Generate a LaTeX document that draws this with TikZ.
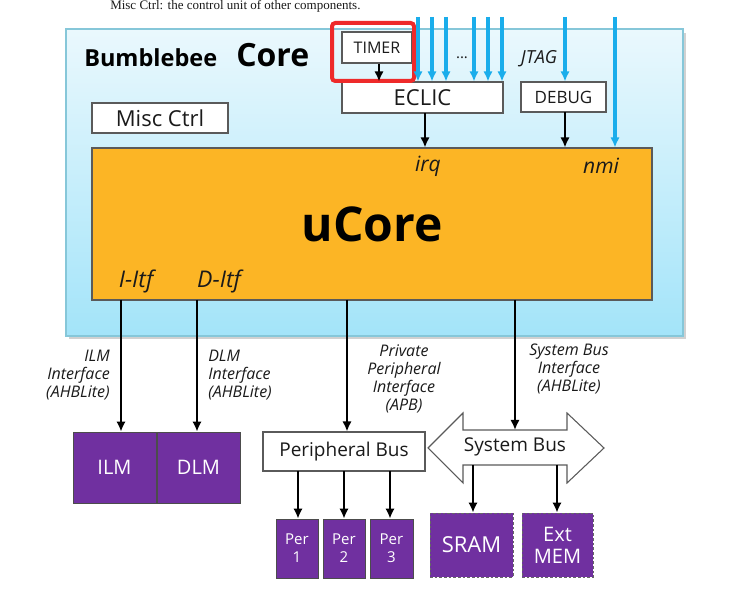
\documentclass[tikz,border=0pt]{standalone}
\usepackage{fontspec}
\setmainfont{Open Sans}
\newfontfamily\topserif{Liberation Serif}
\usetikzlibrary{arrows.meta}
\newdimen\pxu \pxu=0.75pt
\newcommand\fsz[2]{\fontsize{#1\pxu}{#2\pxu}\selectfont}
\definecolor{blueline}{HTML}{1AADEB}
\definecolor{coretop}{HTML}{EAF8FD}
\definecolor{corebot}{HTML}{A3E4F9}
\definecolor{coreedge}{HTML}{86C7D9}
\definecolor{orangec}{HTML}{FCB525}
\definecolor{purplec}{HTML}{7030A0}
\definecolor{edgegray}{HTML}{5A5A5A}
\definecolor{txt}{HTML}{1A1A1A}
\definecolor{redbox}{HTML}{EE2A2A}
\tikzset{
  sz/.style 2 args={minimum width=#1*\pxu, minimum height=#2*\pxu, inner sep=0pt},
  wbox/.style={draw=edgegray, line width=0.8pt, fill=white, text=txt},
  pbox/.style={draw=black!70, line width=0.6pt, fill=purplec, text=white},
  pdash/.style={draw=black!60, line width=0.6pt, dashed, dash pattern=on 2pt off 1.5pt, fill=purplec, text=white},
  barrow/.style={line width=2.1pt, -{Latex[length=7.5pt,width=7pt]}, draw=black},
  larrow/.style={line width=2.3pt, -{Latex[length=7.5pt,width=7pt]}, draw=blueline},
  lbl/.style={font=\itshape\fsz{16}{18}, text=txt, inner sep=0pt},
}
\begin{document}
\begin{tikzpicture}[x=0.75pt,y=-0.75pt]
\clip (0,0) rectangle (750,609);
\fill[white] (0,0) rectangle (750,609);
% caption text at top
\node[anchor=base west, font=\topserif\fsz{13}{15}, text=txt, inner sep=0pt] (cap) at (110,10) {Misc Ctrl: the control unit of other components.};
% core box with shadow
\fill[black!18] (69,33) rectangle (686,339);
\node[sz={617}{307}, draw=coreedge, line width=0.8pt, top color=coretop, bottom color=corebot] (core) at (374.5,182.5) {};
\node[anchor=base west, font=\bfseries\fsz{23.5}{26}, text=black, inner sep=0pt] (bb) at (84,67) {Bumblebee};
\node[anchor=base west, font=\bfseries\fsz{32}{35}, text=black, inner sep=0pt] (cw) at (236,67) {Core};
% top boxes
\node[wbox, sz={70}{31}, font=\fsz{16}{18}] (timer) at (377,47.5) {TIMER};
\node[wbox, sz={161}{31}, font=\fsz{22}{24}] (eclic) at (422.5,97.5) {ECLIC};
\node[wbox, sz={85}{30}, font=\fsz{17}{19}] (debug) at (563.5,97) {DEBUG};
\node[wbox, sz={136}{30}, font=\fsz{22}{24}] (misc) at (160,118) {Misc Ctrl};
\node[draw=redbox, line width=3pt, rounded corners=2.5pt, sz={82}{58}] (hl) at (373,52) {};
% uCore
\node[draw=edgegray, line width=0.8pt, fill=orangec, sz={560}{152}, font=\bfseries\fsz{48}{50}, text=black] (ucore) at (372,224) {uCore};
\node[lbl, font=\itshape\fsz{21}{23}] (irq) at (428,166) {irq};
\node[lbl, font=\itshape\fsz{21}{23}] (nmi) at (601,166) {nmi};
\node[lbl, font=\itshape\fsz{23}{25}] (iitf) at (136,281) {I-Itf};
\node[lbl, font=\itshape\fsz{23}{25}] (ditf) at (219,281) {D-Itf};
% labels on top
\node[font=\fsz{15}{16}, text=txt, inner sep=0pt] (dots) at (462,58) {...};
\node[lbl, font=\itshape\fsz{18}{20}] (jtag) at (539,59) {JTAG};
% blue input arrows
\foreach \i/\x in {1/418,2/432,3/446,4/474,5/488,6/502}{
  \coordinate (in\i) at (\x,17);
  \draw[larrow] (in\i) -- (in\i |- eclic.north);
}
\coordinate (jt) at (565,17);
\draw[larrow] (jt) -- (jt |- debug.north);
\coordinate (nm) at (615,17);
\draw[larrow] (nm) -- (nm |- ucore.north);
% black arrows top
\draw[barrow] ([xshift=2*\pxu]timer.south) -- ([xshift=2*\pxu]timer.south |- eclic.north);
\coordinate (ec) at (425,113);
\draw[barrow] (ec) -- (ec |- ucore.north);
\coordinate (dc) at (565,112);
\draw[barrow] (dc) -- (dc |- ucore.north);
% bottom boxes
\node[pbox, sz={83}{71}, font=\fsz{20}{22}] (ilm) at (114.5,467.5) {ILM};
\node[pbox, sz={83}{71}, font=\fsz{20}{22}] (dlm) at (198.5,467.5) {DLM};
\node[wbox, sz={162}{39}, font=\fsz{19}{21}] (pbus) at (344,451.5) {Peripheral Bus};
\node[pbox, sz={42}{59}, font=\fsz{15}{18}, align=center] (per1) at (297,548.5) {Per\\1};
\node[pbox, sz={42}{59}, font=\fsz{15}{18}, align=center] (per2) at (344,548.5) {Per\\2};
\node[pbox, sz={43}{59}, font=\fsz{15}{18}, align=center] (per3) at (391.5,548.5) {Per\\3};
\node[pdash, sz={83}{64}, font=\fsz{22}{24}] (sram) at (471.5,545) {SRAM};
\node[pdash, sz={71}{64}, font=\fsz{20}{22}, align=center] (ext) at (557.5,545) {Ext\\MEM};
% system bus double arrow
\draw[draw=edgegray, line width=0.8pt, fill=white] (428,448) -- (463,413) -- (463,430) -- (567,430) -- (567,413) -- (604,448) -- (567,483) -- (567,465) -- (463,465) -- (463,483) -- cycle;
\node[font=\fsz{19}{21}, text=txt, inner sep=0pt] (sbus) at (515,447) {System Bus};
\coordinate (sbtop) at (515,430);
\coordinate (sbb1) at (473,465);
\coordinate (sbb2) at (557,465);
% arrows from ucore down
\coordinate (o1) at (121,300);
\coordinate (o2) at (197,300);
\coordinate (o3) at (347,300);
\coordinate (o4) at (515,300);
\draw[barrow] (o1) -- (o1 |- ilm.north);
\draw[barrow] (o2) -- (o2 |- dlm.north);
\draw[barrow] (o3) -- (o3 |- pbus.north);
\draw[barrow] (o4) -- (sbtop);
\foreach \n/\x in {per1/298,per2/344,per3/390}{
  \coordinate (pc\n) at (\x,471);
  \draw[barrow] (pc\n) -- (pc\n |- \n.north);
}
\draw[barrow] (sbb1) -- (sbb1 |- sram.north);
\draw[barrow] (sbb2) -- (sbb2 |- ext.north);
% interface labels
\node[lbl, anchor=east, align=right] (ilml) at (110,375) {ILM\\Interface\\(AHBLite)};
\node[lbl, anchor=west, align=left] (dlml) at (208,375) {DLM\\Interface\\(AHBLite)};
\node[lbl, align=center] (ppl) at (404,379) {Private\\Peripheral\\Interface\\(APB)};
\node[lbl, align=center] (sbl) at (569,369) {System Bus\\Interface\\(AHBLite)};
\end{tikzpicture}
\end{document}
